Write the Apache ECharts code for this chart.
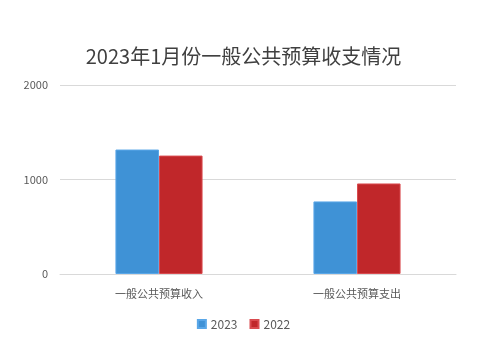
<!DOCTYPE html>
<html><head><meta charset="utf-8">
<script src="https://cdn.jsdelivr.net/npm/echarts@6/dist/echarts.min.js"></script>
<style>html,body{margin:0;padding:0;background:#fff}#c{width:487px;height:358px}</style>
</head><body><div id="c"></div>
<script>
const categories = ['一般公共预算收入', '一般公共预算支出'];
const values2023 = [1317, 768];
const values2022 = [1253, 958];
const seriesNames = ['2023', '2022'];
const chart = echarts.init(document.getElementById('c'));
const font = '"Noto Sans CJK SC", "Microsoft YaHei", sans-serif';
chart.setOption({
  animation: false,
  textStyle: {fontFamily: font},
  title: {text: '2023年1月份一般公共预算收支情况', left: 'center', top: 41,
    textStyle: {fontSize: 20, fontWeight: 'normal', color: '#404040', fontFamily: font}},
  legend: {bottom: 23, itemWidth: 8, itemHeight: 8, itemGap: 12, icon: 'rect',
    textStyle: {fontSize: 12, color: '#595959', fontFamily: font}},
  grid: {left: 60, right: 31, top: 85, bottom: 84},
  xAxis: {type: 'category', data: categories,
    axisLine: {lineStyle: {color: '#d9d9d9'}}, axisTick: {show: false},
    axisLabel: {color: '#595959', fontSize: 11, margin: 14, fontFamily: font}},
  yAxis: {type: 'value', min: 0, max: 2000, interval: 1000,
    axisLine: {show: false}, axisTick: {show: false},
    splitLine: {lineStyle: {color: '#d9d9d9'}},
    axisLabel: {color: '#595959', fontSize: 11, margin: 12, formatter: v => String(v)}},
  series: [
    {name: seriesNames[0], type: 'bar', data: values2023, barWidth: '22%', barGap: '0%',
      itemStyle: {color: '#3f92d6', borderColor: '#5aa7e8', borderWidth: 1}},
    {name: seriesNames[1], type: 'bar', data: values2022, barWidth: '22%',
      itemStyle: {color: '#c0272a', borderColor: '#d94b4f', borderWidth: 1}}
  ]
});
</script></body></html>
